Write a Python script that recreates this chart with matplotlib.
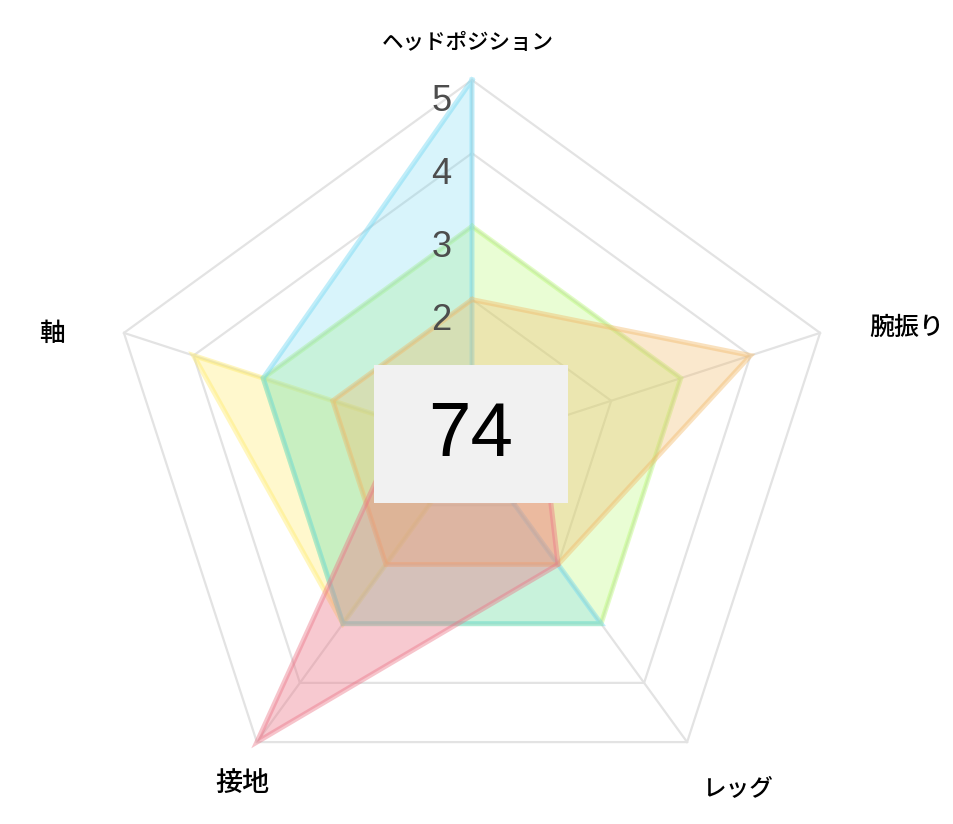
import numpy as np
import matplotlib

matplotlib.use("Agg")
import matplotlib.pyplot as plt
from matplotlib.patches import Rectangle

labels = ["ヘッドポジション", "腕振り", "レッグ", "接地", "軸"]
tick_values = [2, 3, 4, 5]
score = "74"

# one list per dataset, order follows labels
yellow_vals = [0, 0, 0, 3, 4]
green_vals = [3, 3, 3, 3, 3]
orange_vals = [2, 4, 2, 2, 2]
cyan_vals = [5, 0, 3, 3, 3]
red_vals = [1, 1, 2, 5, 1]

datasets = [
    (yellow_vals, (1.00, 0.92, 0.40), 0.32),
    (green_vals, (0.72, 0.98, 0.45), 0.30),
    (cyan_vals, (0.42, 0.84, 0.95), 0.26),
    (orange_vals, (0.95, 0.72, 0.40), 0.32),
    (red_vals, (0.92, 0.45, 0.52), 0.38),
]

n = len(labels)
angles = np.deg2rad(90 - 72 * np.arange(n))
rmax = 5


def xy(vals):
    vals = np.asarray(vals, dtype=float)
    return vals * np.cos(angles), vals * np.sin(angles)


fig = plt.figure(figsize=(9.54, 8.24), dpi=100)
ax = fig.add_axes([0, 0, 1, 1])
scale = 73.2
ax.set_xlim(-472 / scale, (954 - 472) / scale)
ax.set_ylim(-(824 - 446) / scale, 446 / scale)
ax.axis("off")

grid_c = "#e3e3e3"
for lvl in range(1, rmax + 1):
    gx, gy = xy([lvl] * n)
    ax.plot(np.append(gx, gx[0]), np.append(gy, gy[0]), color=grid_c, lw=1.6, zorder=1)
ox, oy = xy([rmax] * n)
for x, y in zip(ox, oy):
    ax.plot([0, x], [0, y], color=grid_c, lw=1.6, zorder=1)

for i, (vals, col, a) in enumerate(datasets):
    px, py = xy(vals)
    ax.fill(px, py, color=col, alpha=a, lw=0, zorder=2 + i)
    ax.plot(np.append(px, px[0]), np.append(py, py[0]), color=col, alpha=0.42,
            lw=3.6, solid_joinstyle="miter", zorder=2 + i)

for t in tick_values:
    ax.text(-0.42, t - 0.29, str(t), ha="center", va="center", fontsize=26,
            family="Liberation Sans", color="#4d4d4d", zorder=10)

label_xy = [(-0.05, 5.51), (5.94, 1.61), (3.62, -4.70), (-3.14, -4.63), (-5.74, 1.54)]
label_size = [15.5, 18, 17, 19.5, 18.5]
for lab, (lx, ly), fs in zip(labels, label_xy, label_size):
    ax.text(lx, ly, lab, ha="center", va="center", fontsize=fs, fontweight="medium",
            family=["Noto Sans CJK JP", "DejaVu Sans"], color="#000000", zorder=10)

bx0, bx1 = (374 - 472) / scale, (568 - 472) / scale
by0, by1 = (446 - 503) / scale, (446 - 365) / scale
ax.add_patch(Rectangle((bx0, by0), bx1 - bx0, by1 - by0, facecolor="#f1f1f1",
                       edgecolor="none", zorder=20))
ax.text((bx0 + bx1) / 2, (by0 + by1) / 2 - 0.04, score, ha="center", va="center",
        fontsize=55, family="Liberation Sans", color="#000000", zorder=21)

fig.savefig("out.png", dpi=100)
